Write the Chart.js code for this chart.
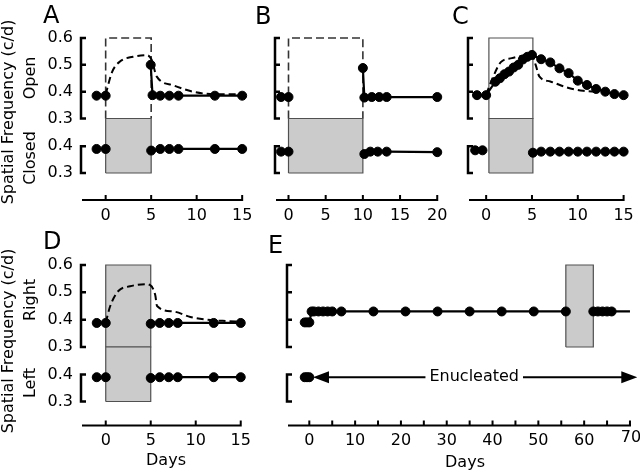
<!DOCTYPE html>
<html lang="en">
<head>
<meta charset="UTF-8">
<title>Spatial frequency after eye closure</title>
<script src="https://cdn.jsdelivr.net/npm/chart.js"></script>
<style>
  body { margin: 0; background: #fff; }
  #wrap { position: relative; width: 640px; height: 472px; }
  #wrap canvas { position: absolute; left: 0; top: 0; }
</style>
</head>
<body>
<div id="wrap">
  <canvas id="panelA" width="640" height="472"></canvas>
  <canvas id="panelB" width="640" height="472"></canvas>
  <canvas id="panelC" width="640" height="472"></canvas>
  <canvas id="panelD" width="640" height="472"></canvas>
  <canvas id="panelE" width="640" height="472"></canvas>
</div>
<script>
// ---------- data (days, spatial frequency in c/d) ----------
// A: one eye closed days 0-5
const aOpenPreDays = [-1, 0];
const aOpenPreVals = [0.385, 0.385];
const aOpenPostDays = [4.95, 5.15, 6, 7, 8, 12, 15];
const aOpenPostVals = [0.50, 0.387, 0.385, 0.385, 0.385, 0.385, 0.385];
const aClosedPreDays = [-1, 0];
const aClosedPreVals = [0.39, 0.39];
const aClosedPostDays = [5, 6, 7, 8, 12, 15];
const aClosedPostVals = [0.384, 0.39, 0.39, 0.39, 0.39, 0.39];
const aDashDays = [0, 0.7, 1.6, 3.0, 4.5, 5.05, 5.6, 7.4, 9.6, 12.2, 15];
const aDashVals = [0.39, 0.473, 0.513, 0.53, 0.536, 0.519, 0.457, 0.424, 0.40, 0.39, 0.39];
const aBox = [0, 5];

// B: one eye closed days 0-10
const bOpenPreDays = [-1, 0];
const bOpenPreVals = [0.38, 0.38];
const bOpenPostDays = [10, 10.2, 11.2, 12.2, 13.2, 20];
const bOpenPostVals = [0.488, 0.378, 0.38, 0.38, 0.38, 0.38];
const bClosedPreDays = [-1, 0];
const bClosedPreVals = [0.38, 0.38];
const bClosedPostDays = [10.2, 11, 12, 13.2, 20];
const bClosedPostVals = [0.371, 0.38, 0.38, 0.38, 0.378];
const bBox = [0, 10];

// C: open eye followed daily
const cOpenDays = [-1, 0, 1, 1.5, 2, 2.5, 3, 3.5, 4, 4.5, 5, 6, 7, 8, 9, 10, 11, 12, 13, 14, 15];
const cOpenVals = [0.387, 0.387, 0.437, 0.45, 0.465, 0.475, 0.49, 0.5, 0.52, 0.53, 0.537,
                   0.521, 0.509, 0.487, 0.469, 0.441, 0.425, 0.41, 0.40, 0.391, 0.387];
const cClosedPreDays = [-1.2, -0.4];
const cClosedPreVals = [0.385, 0.385];
const cClosedPostDays = [5.1, 6, 7, 8, 9, 10, 11, 12, 13, 14, 15];
const cClosedPostVals = [0.376, 0.38, 0.38, 0.38, 0.38, 0.38, 0.38, 0.38, 0.38, 0.38, 0.38];
const cDashDays = [0, 0.7, 1.6, 2.8, 4.2, 5.0, 5.4, 5.8, 7, 8.8, 10.6, 12];
const cDashVals = [0.39, 0.45, 0.51, 0.525, 0.535, 0.537, 0.50, 0.457, 0.438, 0.416, 0.403, 0.40];
const cBox = [0.3, 5.1];

// D: both eyes closed days 0-5
const dRightPreDays = [-1, 0];
const dRightPreVals = [0.388, 0.388];
const dRightPostDays = [5, 6, 7, 8, 12, 15];
const dRightPostVals = [0.385, 0.388, 0.388, 0.388, 0.388, 0.388];
const dLeftPreDays = [-1, 0];
const dLeftPreVals = [0.39, 0.39];
const dLeftPostDays = [5, 6, 7, 8, 12, 15];
const dLeftPostVals = [0.387, 0.39, 0.39, 0.39, 0.39, 0.39];
const dDashDays = [0, 0.5, 1.4, 2.7, 4.4, 4.9, 5.5, 5.7, 7.5, 9.4, 11.2, 13.4, 15];
const dDashVals = [0.39, 0.45, 0.505, 0.522, 0.53, 0.527, 0.49, 0.45, 0.43, 0.41, 0.40, 0.395, 0.393];
const dBox = [0, 5];

// E: left eye enucleated, right eye closed days 56-62
const eRightPreDays = [-1, -0.5, 0, 0.5, 1, 2, 3, 4, 5, 7, 14, 21, 28, 35, 42, 49, 56];
const eRightPreVals = [0.39, 0.39, 0.39, 0.43, 0.43, 0.43, 0.43, 0.43, 0.43, 0.43, 0.43, 0.43, 0.43, 0.43, 0.43, 0.43, 0.43];
const eRightPostDays = [62, 63, 64, 65, 66, 70];
const eRightPostVals = [0.43, 0.43, 0.43, 0.43, 0.43, 0.43];
const eLeftDays = [-1, -0.5, 0];
const eLeftVals = [0.39, 0.39, 0.39];
const eBox = [56, 62];

// tick values
const openTicks = [0.3, 0.4, 0.5, 0.6];
const closedTicks = [0.3, 0.4];
const ticks15 = [0, 5, 10, 15];
const ticks20 = [0, 5, 10, 15, 20];
const ticksE = [0, 10, 20, 30, 40, 50, 60];
const marksE = [0, 5, 10, 15, 20, 25, 30, 35, 40, 45, 50, 55, 60, 65, 70];

// ---------- drawing helpers ----------
Chart.defaults.font.family = 'DejaVu Sans';
Chart.defaults.font.size = 16;
Chart.defaults.color = '#000';

const GRAY = '#cbcbcb';
const EDGE = '#505050';
const DOT = 4.5;

function pts(days, vals) {
  return days.map((d, i) => ({ x: d, y: vals[i] }));
}

function series(days, vals, axis, extra) {
  return Object.assign({
    data: pts(days, vals),
    yAxisID: axis,
    borderColor: '#000',
    borderWidth: 2.2,
    pointRadius: DOT,
    pointBorderWidth: 1,
    pointBackgroundColor: '#000',
    pointBorderColor: '#000',
    tension: 0,
    clip: 8,
    order: 1
  }, extra || {});
}

function dashed(days, vals) {
  return {
    data: pts(days, vals),
    yAxisID: 'yOpen',
    borderColor: '#000',
    borderWidth: 2,
    borderDash: [7, 4],
    pointRadius: 0,
    cubicInterpolationMode: 'monotone',
    clip: 8,
    order: 2
  };
}

// rectangle outline/fill spanning the eye-closure days
function box(span, axis, lo, hi, opts) {
  const closed = opts.closed !== false;
  const corners = [
    { x: span[0], y: lo }, { x: span[0], y: hi },
    { x: span[1], y: hi }, { x: span[1], y: lo }
  ];
  if (closed) corners.push({ x: span[0], y: lo });
  return {
    data: corners,
    yAxisID: axis,
    borderColor: opts.color || EDGE,
    borderWidth: opts.width || 1.2,
    borderDash: opts.dash || [],
    backgroundColor: opts.fill || 'transparent',
    fill: opts.fill ? 'shape' : false,
    pointRadius: 0,
    tension: 0,
    clip: 8,
    order: 3
  };
}

function bracket(ctx, x0, scale, ticks) {
  const top = scale.getPixelForValue(ticks[ticks.length - 1]);
  const bot = scale.getPixelForValue(ticks[0]);
  ctx.beginPath();
  ctx.moveTo(x0 + 5, top);
  ctx.lineTo(x0, top);
  ctx.lineTo(x0, bot);
  ctx.lineTo(x0 + 5, bot);
  ticks.slice(1, -1).forEach(v => {
    const p = scale.getPixelForValue(v);
    ctx.moveTo(x0, p);
    ctx.lineTo(x0 + 5, p);
  });
  ctx.stroke();
}

// axes drawn as brackets + labels/arrows around each panel
const decoPlugin = {
  id: 'deco',
  afterDraw(chart, args, o) {
    const { ctx, chartArea: a, scales } = chart;
    const x = scales.x;
    ctx.save();
    ctx.strokeStyle = '#000';
    ctx.lineJoin = 'miter';
    ctx.lineWidth = 2.5;
    bracket(ctx, a.left + 1, scales.yOpen, openTicks);
    bracket(ctx, a.left + 1, scales.yClosed, closedTicks);

    // x axis with upward ticks
    ctx.lineWidth = 2;
    const marks = o.marks;
    const xEnd = x.getPixelForValue(marks[marks.length - 1]);
    ctx.beginPath();
    ctx.moveTo(a.left + 2, a.bottom);
    ctx.lineTo(xEnd + 1, a.bottom);
    marks.forEach(v => {
      const px = x.getPixelForValue(v);
      ctx.moveTo(px, a.bottom);
      ctx.lineTo(px, a.bottom - 5);
    });
    ctx.stroke();

    // "Enucleated" arrow
    if (o.arrow) {
      const ar = o.arrow;
      const y = scales.yClosed.getPixelForValue(ar.value);
      const x1 = x.getPixelForValue(ar.from);
      const x2 = x.getPixelForValue(ar.to);
      const xm = x.getPixelForValue(ar.labelAt);
      ctx.font = '16px "DejaVu Sans"';
      const half = ctx.measureText(ar.label).width / 2 + 4;
      ctx.lineWidth = 2;
      ctx.beginPath();
      ctx.moveTo(x1 + 10, y); ctx.lineTo(xm - half, y);
      ctx.moveTo(xm + half, y); ctx.lineTo(x2 - 10, y);
      ctx.stroke();
      ctx.fillStyle = '#000';
      ctx.beginPath();
      ctx.moveTo(x1, y); ctx.lineTo(x1 + 16, y - 6); ctx.lineTo(x1 + 16, y + 6); ctx.closePath();
      ctx.moveTo(x2, y); ctx.lineTo(x2 - 16, y - 6); ctx.lineTo(x2 - 16, y + 6); ctx.closePath();
      ctx.fill();
      ctx.textAlign = 'center';
      ctx.textBaseline = 'middle';
      ctx.fillText(ar.label, xm, y);
    }

    // free texts
    ctx.fillStyle = '#000';
    (o.texts || []).forEach(t => {
      ctx.save();
      ctx.font = (t.size || 16) + 'px "DejaVu Sans"';
      ctx.textAlign = t.align || 'center';
      ctx.textBaseline = t.base || 'middle';
      ctx.translate(t.x, t.y);
      if (t.rot) ctx.rotate(t.rot * Math.PI / 180);
      ctx.fillText(t.text, 0, 0);
      ctx.restore();
    });
    ctx.restore();
  }
};

function makePanel(id, p) {
  const yW = 40, xH = 30;
  new Chart(document.getElementById(id), {
    type: 'line',
    data: { datasets: p.datasets },
    plugins: [decoPlugin],
    options: {
      responsive: false,
      animation: false,
      events: [],
      layout: {
        padding: {
          left: p.area.left - yW,
          right: 640 - p.area.right,
          top: p.area.top,
          bottom: 472 - p.area.bottom - xH
        }
      },
      plugins: {
        legend: { display: false },
        tooltip: { enabled: false },
        deco: { marks: p.marks, texts: p.texts, arrow: p.arrow }
      },
      scales: {
        x: {
          type: 'linear',
          position: 'bottom',
          min: p.xRange[0],
          max: p.xRange[1],
          grid: { display: false, drawTicks: false },
          border: { display: false },
          ticks: { autoSkip: false, maxRotation: 0, padding: 6, font: { size: 16 } },
          afterBuildTicks: s => { s.ticks = p.labels.map(v => ({ value: v })); },
          afterFit: s => { s.height = xH; }
        },
        yOpen: {
          type: 'linear',
          position: 'left',
          stack: 'eyes',
          stackWeight: p.split[0],
          weight: 2,
          min: 0.3,
          max: 0.6,
          grid: { display: false, drawTicks: false },
          border: { display: false },
          ticks: { display: !!p.yLabels, autoSkip: false, padding: 7, callback: v => v.toFixed(1) },
          afterBuildTicks: s => { s.ticks = openTicks.map(v => ({ value: v })); },
          afterFit: s => { s.width = yW; }
        },
        yClosed: {
          type: 'linear',
          position: 'left',
          stack: 'eyes',
          stackWeight: p.split[1],
          weight: 1,
          min: p.lower[0],
          max: p.lower[1],
          grid: { display: false, drawTicks: false },
          border: { display: false },
          ticks: { display: !!p.yLabels, autoSkip: false, padding: 7, callback: v => v.toFixed(1) },
          afterBuildTicks: s => { s.ticks = closedTicks.map(v => ({ value: v })); },
          afterFit: s => { s.width = yW; }
        }
      }
    }
  });
}

const topLower = [0.199, 0.504];
const botLower = [0.211, 0.502];

makePanel('panelA', {
  area: { left: 80, right: 250, top: 38, bottom: 200 },
  split: [80.5, 81.5], lower: topLower,
  xRange: [-2.82, 15.86], labels: ticks15, marks: ticks15, yLabels: true,
  datasets: [
    box(aBox, 'yClosed', 0.3, topLower[1], { fill: GRAY }),
    box(aBox, 'yOpen', 0.3, 0.6, { closed: false, dash: [8, 4], color: '#333', width: 1.6 }),
    series(aOpenPreDays, aOpenPreVals, 'yOpen'),
    series(aOpenPostDays, aOpenPostVals, 'yOpen'),
    series(aClosedPreDays, aClosedPreVals, 'yClosed'),
    series(aClosedPostDays, aClosedPostVals, 'yClosed'),
    dashed(aDashDays, aDashVals)
  ],
  texts: [
    { text: 'A', x: 43, y: 23, size: 24, align: 'left', base: 'alphabetic' },
    { text: 'Spatial Frequency (c/d)', x: 9, y: 112, rot: -90 },
    { text: 'Open', x: 31, y: 78, rot: -90 },
    { text: 'Closed', x: 31, y: 158, rot: -90 }
  ]
});

makePanel('panelB', {
  area: { left: 274, right: 442, top: 38, bottom: 200 },
  split: [80.5, 81.5], lower: topLower,
  xRange: [-1.95, 20.64], labels: ticks20, marks: ticks20,
  datasets: [
    box(bBox, 'yClosed', 0.3, topLower[1], { fill: GRAY }),
    box(bBox, 'yOpen', 0.3, 0.6, { closed: false, dash: [8, 4], color: '#333', width: 1.6 }),
    series(bOpenPreDays, bOpenPreVals, 'yOpen'),
    series(bOpenPostDays, bOpenPostVals, 'yOpen'),
    series(bClosedPreDays, bClosedPreVals, 'yClosed'),
    series(bClosedPostDays, bClosedPostVals, 'yClosed')
  ],
  texts: [
    { text: 'B', x: 255, y: 24, size: 24, align: 'left', base: 'alphabetic' }
  ]
});

makePanel('panelC', {
  area: { left: 467, right: 634, top: 38, bottom: 200 },
  split: [80.5, 81.5], lower: topLower,
  xRange: [-2.09, 15.6], labels: ticks15, marks: ticks15,
  datasets: [
    box(cBox, 'yClosed', 0.3, topLower[1], { fill: GRAY }),
    box(cBox, 'yOpen', 0.3, 0.6, { fill: '#ffffff' }),
    series(cOpenDays, cOpenVals, 'yOpen'),
    series(cClosedPreDays, cClosedPreVals, 'yClosed'),
    series(cClosedPostDays, cClosedPostVals, 'yClosed'),
    dashed(cDashDays, cDashVals)
  ],
  texts: [
    { text: 'C', x: 452, y: 24, size: 24, align: 'left', base: 'alphabetic' }
  ]
});

makePanel('panelD', {
  area: { left: 80, right: 250, top: 265, bottom: 425.5 },
  split: [82, 78.5], lower: botLower,
  xRange: [-2.86, 16.03], labels: ticks15, marks: ticks15, yLabels: true,
  datasets: [
    box(dBox, 'yClosed', 0.3, botLower[1], { fill: GRAY }),
    box(dBox, 'yOpen', 0.3, 0.6, { fill: GRAY }),
    series(dRightPreDays, dRightPreVals, 'yOpen'),
    series(dRightPostDays, dRightPostVals, 'yOpen'),
    series(dLeftPreDays, dLeftPreVals, 'yClosed'),
    series(dLeftPostDays, dLeftPostVals, 'yClosed'),
    dashed(dDashDays, dDashVals)
  ],
  texts: [
    { text: 'D', x: 43, y: 249, size: 24, align: 'left', base: 'alphabetic' },
    { text: 'Spatial Frequency (c/d)', x: 9, y: 341, rot: -90 },
    { text: 'Right', x: 31, y: 300, rot: -90 },
    { text: 'Left', x: 31, y: 383, rot: -90 },
    { text: 'Days', x: 166, y: 461 }
  ]
});

makePanel('panelE', {
  area: { left: 286, right: 634, top: 265, bottom: 425.5 },
  split: [82, 78.5], lower: botLower,
  xRange: [-5.09, 70.88], labels: ticksE, marks: marksE,
  datasets: [
    box(eBox, 'yOpen', 0.3, 0.6, { fill: GRAY }),
    series(eRightPreDays, eRightPreVals, 'yOpen'),
    series(eRightPostDays, eRightPostVals, 'yOpen', {
      pointRadius: c => (c.dataIndex === eRightPostDays.length - 1 ? 0 : DOT),
      pointBorderWidth: c => (c.dataIndex === eRightPostDays.length - 1 ? 0 : 1)
    }),
    series(eLeftDays, eLeftVals, 'yClosed')
  ],
  arrow: { from: 0.8, to: 71.6, value: 0.39, label: 'Enucleated', labelAt: 36 },
  texts: [
    { text: 'E', x: 268, y: 253, size: 24, align: 'left', base: 'alphabetic' },
    { text: '70', x: 631, y: 437.5 },
    { text: 'Days', x: 465, y: 463 }
  ]
});
</script>
</body>
</html>
